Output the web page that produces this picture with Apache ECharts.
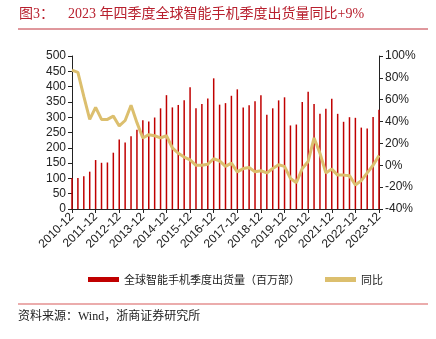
<!DOCTYPE html>
<html><head><meta charset="utf-8">
<script src="https://cdn.jsdelivr.net/npm/echarts@6/dist/echarts.min.js"></script>
<style>html,body{margin:0;padding:0;background:#fff}#c{width:436px;height:339px}</style>
</head><body><div id="c"></div>
<script>
const years = [2010,2011,2012,2013,2014,2015,2016,2017,2018,2019,2020,2021,2022,2023];
const categories = [];
years.forEach(y => ['03','06','09','12'].forEach(m => { const s = y + '-' + m; if (s >= '2010-12') categories.push(s); }));
const shipments = [101,101,107,122,160,151,152,184,227,217,238,259,290,286,
  299,329,372,332,340,355,398,329,343,361,427,341,346,370,391,332,339,352,372,308,329,355,365,273,276,350,
  383,343,311,328,360,311,285,300,298,266,263,301,324];
const yoy = [87,85,63,42,53,42,42,45,36,41,55,39,25,28,
  27,25,27,16,11,7.5,5,0,0,1,6,4,-1,2,-6,-3,-2,-6,-5,-7,-3,0.5,-1,-12,-16,-3,
  3.5,25,11,-7,-3.5,-9,-9,-9.5,-18,-14,-7,0,9];
const barName = '全球智能手机季度出货量（百万部）';
const lineName = '同比';
const titleText = '图3：    2023 年四季度全球智能手机季度出货量同比+9%';
const sourceText = '资料来源：Wind，浙商证券研究所';

const chart = echarts.init(document.getElementById('c'));
const axisFont = { fontFamily: 'Liberation Sans, Arial', fontSize: 12, color: '#222' };
chart.setOption({
  animation: false,
  graphic: [
    { type: 'text', left: 19, top: 7, style: { text: titleText, fill: '#b8202e', font: '14px "Liberation Serif", "Noto Sans CJK SC"' } },
    { type: 'line', shape: { x1: 18, y1: 29, x2: 428, y2: 29 }, style: { stroke: '#c0303a', lineWidth: 1 } },
    { type: 'line', shape: { x1: 18, y1: 304, x2: 428, y2: 304 }, style: { stroke: '#e49090', lineWidth: 1.5 } },
    { type: 'text', left: 18, top: 311, style: { text: sourceText, fill: '#222', font: '12px "Liberation Serif", "Noto Sans CJK SC"' } }
  ],
  legend: {
    left: 83, top: 269, itemWidth: 31, itemHeight: 5, itemGap: 25,
    textStyle: { fontFamily: 'Noto Sans CJK SC', fontSize: 11, color: '#222' },
    data: [{ name: barName, icon: 'rect' }, { name: lineName, icon: 'rect', itemStyle: { color: '#dcbf6e' } }]
  },
  grid: { left: 72, right: 57, top: 56, bottom: 130 },
  xAxis: {
    type: 'category', data: categories, boundaryGap: false,
    axisLine: { lineStyle: { color: '#222' } },
    axisTick: { interval: 3, length: 4, lineStyle: { color: '#222' } },
    axisLabel: Object.assign({ interval: 3, rotate: 45, margin: 6 }, axisFont)
  },
  yAxis: [
    { type: 'value', min: 0, max: 500, interval: 50, splitLine: { show: false },
      axisLine: { show: true, lineStyle: { color: '#222' } },
      axisTick: { show: true, length: 4, lineStyle: { color: '#222' } },
      axisLabel: Object.assign({ margin: 6 }, axisFont) },
    { type: 'value', min: -40, max: 100, interval: 20, splitLine: { show: false },
      axisLine: { show: true, lineStyle: { color: '#222' } },
      axisTick: { show: true, length: 4, lineStyle: { color: '#222' } },
      axisLabel: Object.assign({ margin: 6, formatter: '{value}%' }, axisFont) }
  ],
  series: [
    { name: barName, type: 'bar', data: shipments, barWidth: 1.5, itemStyle: { color: '#c00000' } },
    { name: lineName, type: 'line', yAxisIndex: 1, data: yoy, showSymbol: false, symbol: 'none',
      lineStyle: { color: '#dcbf6e', width: 3 }, itemStyle: { color: '#dcbf6e' } }
  ]
});
</script></body></html>
